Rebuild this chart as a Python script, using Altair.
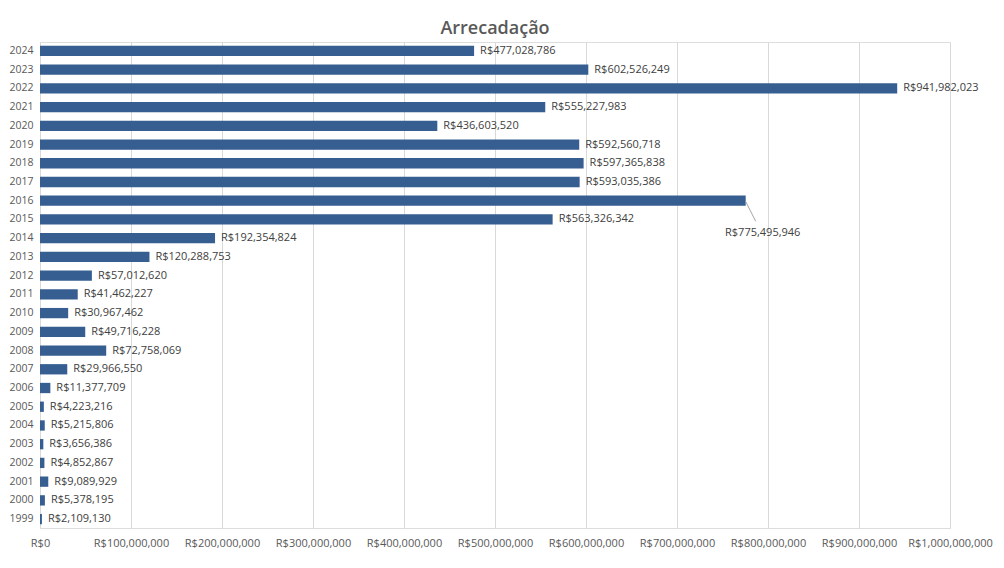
import altair as alt
import pandas as pd

years = [1999, 2000, 2001, 2002, 2003, 2004, 2005, 2006, 2007, 2008, 2009, 2010, 2011,
         2012, 2013, 2014, 2015, 2016, 2017, 2018, 2019, 2020, 2021, 2022, 2023, 2024]
values = [2109130, 5378195, 9089929, 4852867, 3656386, 5215806, 4223216, 11377709,
          29966550, 72758069, 49716228, 30967462, 41462227, 57012620, 120288753,
          192354824, 563326342, 775495946, 593035386, 597365838, 592560718,
          436603520, 555227983, 941982023, 602526249, 477028786]
callout_year = 2016  # label displaced below its bar with a leader line

df = pd.DataFrame({"year": [str(y) for y in years], "value": values})
df["callout"] = df["year"] == str(callout_year)
order = [str(y) for y in reversed(years)]

FONT = "Open Sans"
GRAY = "#595959"
BAR = "#365E91"

base = alt.Chart(df)

y_enc = alt.Y("year:N", title=None,
              scale=alt.Scale(domain=order, paddingInner=0.45, paddingOuter=0.2),
              axis=alt.Axis(domain=False, ticks=False, labelPadding=7,
                            labelColor=GRAY, labelFont=FONT, labelFontSize=10.5,
                            labelBaseline="middle"))
y_enc_plain = alt.Y("year:N")
x_enc = alt.X("value:Q", title=None,
              scale=alt.Scale(domain=[0, 1000000000], nice=False),
              axis=alt.Axis(values=[i * 100000000 for i in range(11)],
                            labelExpr="'R$' + format(datum.value, ',')",
                            labelOverlap=False, labelFlush=False,
                            domain=False, ticks=False, grid=True,
                            gridColor="#d9d9d9", gridWidth=1,
                            labelColor=GRAY, labelFont=FONT, labelFontSize=11,
                            labelPadding=9))

bars = base.mark_bar(color=BAR).encode(x=x_enc, y=y_enc)

labels = base.transform_filter("!datum.callout").transform_calculate(
    label="'R$' + format(datum.value, ',')"
).mark_text(align="left", baseline="middle", dx=6, font=FONT, fontSize=11,
            color="#404040").encode(x="value:Q", y=y_enc_plain, text="label:N")

callout_label = base.transform_filter("datum.callout").transform_calculate(
    label="'R$' + format(datum.value, ',')"
).mark_text(align="center", baseline="middle", dx=17, dy=32, font=FONT,
            fontSize=11, color="#404040").encode(x="value:Q", y=y_enc_plain,
                                                 text="label:N")

leader = base.transform_filter("datum.callout").transform_calculate(
    x_end="datum.value + 11000000",
    year_below="'" + str(callout_year - 1) + "'"
).mark_rule(color="#a6a6a6", strokeWidth=1).encode(
    x="value:Q", x2="x_end:Q",
    y=alt.Y("year:N", bandPosition=0.58),
    y2=alt.Y2("year_below:N", bandPosition=0.68))

chart = alt.layer(bars, labels, leader, callout_label).properties(
    width=910, height=486,
    title=alt.Title("Arrecadação", font=FONT, fontSize=18, fontWeight=600,
                    color=GRAY, anchor="middle", offset=4),
    autosize=alt.AutoSizeParams(type="none"),
    padding={"left": 32, "top": 34, "right": 46, "bottom": 32},
).configure_view(stroke=None).configure(background="white")

chart.save("out.html", embed_options={"renderer": "svg", "actions": False})
